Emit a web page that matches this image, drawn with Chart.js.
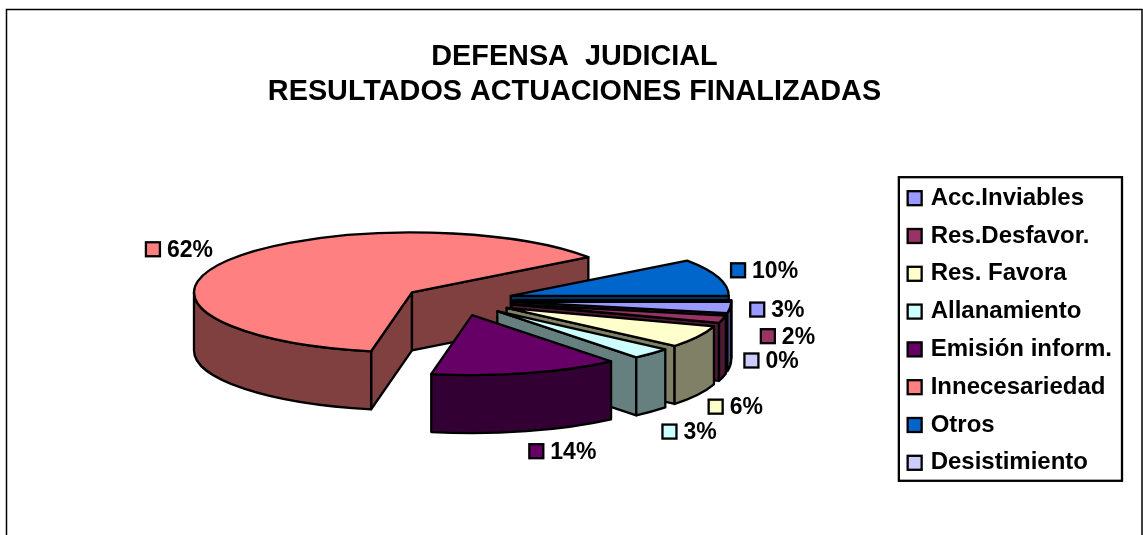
<!DOCTYPE html>
<html>
<head>
<meta charset="utf-8">
<script src="https://cdn.jsdelivr.net/npm/chart.js@4"></script>
<style>
  html, body { margin: 0; padding: 0; background: #fff; }
  canvas { display: block; }
</style>
</head>
<body>
<canvas id="pieChart" width="1143" height="535"></canvas>
<script>
const titleLines = ['DEFENSA  JUDICIAL', 'RESULTADOS ACTUACIONES FINALIZADAS'];
const categories = ['Acc.Inviables', 'Res.Desfavor.', 'Res. Favora', 'Allanamiento', 'Emisión inform.', 'Innecesariedad', 'Otros', 'Desistimiento'];
const percentages = [3, 2, 6, 3, 14, 62, 10, 0];
const topColors = ['#9999FF', '#993366', '#FFFFCC', '#CCFFFF', '#660066', '#FF8080', '#0066CC', '#CCCCFF'];
const wallColors = ['#4D4D80', '#4D1933', '#808066', '#668080', '#330033', '#804040', '#003366', '#666680'];

// look of the fake 3d pie
const tilt = 0.275;
const depth = 58;
const explode = 55;
const shiftX = -4.5; // pie position relative to the centre of the chart area
const liftY = 30;
// where the % labels go, relative to the outer middle of each slice
const labelShift = [[27, 2], [45, 17], [18, 70], [18, 78], [10, 78], [-75, -11], [20, -7], [20, 60]];

const FONT = '"Liberation Sans", Arial, sans-serif';

function drawKey(ctx, x, y, color) {
    ctx.fillStyle = color;
    ctx.strokeStyle = '#000';
    ctx.lineWidth = 2.3;
    ctx.fillRect(x, y, 14, 14);
    ctx.strokeRect(x, y, 14, 14);
}

const pie3d = {
    id: 'pie3d',
    beforeDraw(chart) {
        // outer frame, the bottom edge falls off the page
        const ctx = chart.ctx;
        ctx.save();
        ctx.strokeStyle = '#000';
        ctx.lineWidth = 1.5;
        ctx.beginPath();
        ctx.moveTo(6.5, chart.height);
        ctx.lineTo(6.5, 9.5);
        ctx.lineTo(1142, 9.5);
        ctx.lineTo(1142, chart.height);
        ctx.stroke();
        ctx.restore();
    },
    beforeDatasetsDraw(chart) {
        const ctx = chart.ctx;
        const arcs = chart.getDatasetMeta(0).data;

        const slices = arcs.map((arc, i) => {
            const mid = (arc.startAngle + arc.endAngle) / 2;
            return {
                arc, i, mid,
                px: arc.x + shiftX + Math.cos(mid) * explode,
                py: arc.y - liftY + Math.sin(mid) * explode * tilt
            };
        });

        // back to front
        slices.slice().sort((a, b) => Math.sin(a.mid) - Math.sin(b.mid)).forEach(s => {
            const { arc, i, px, py } = s;
            const r = arc.outerRadius;
            const ry = r * tilt;
            const t0 = arc.startAngle;
            const t1 = arc.endAngle;
            const edge = t => [px + Math.cos(t) * r, py + Math.sin(t) * ry];

            ctx.save();
            ctx.lineWidth = 2.3;
            ctx.lineJoin = 'round';
            ctx.strokeStyle = '#000';
            ctx.fillStyle = wallColors[i];

            const radialWall = t => {
                const [ex, ey] = edge(t);
                ctx.beginPath();
                ctx.moveTo(px, py);
                ctx.lineTo(ex, ey);
                ctx.lineTo(ex, ey + depth);
                ctx.lineTo(px, py + depth);
                ctx.closePath();
                ctx.fill();
                ctx.stroke();
            };
            if (Math.cos(t0) < 0) radialWall(t0);
            if (Math.cos(t1) > 0) radialWall(t1);

            // curved wall, only the part that faces the viewer
            [[0, Math.PI], [2 * Math.PI, 3 * Math.PI]].forEach(([lo, hi]) => {
                const a = Math.max(t0, lo);
                const b = Math.min(t1, hi);
                if (b <= a) return;
                ctx.beginPath();
                ctx.ellipse(px, py, r, ry, 0, a, b);
                ctx.ellipse(px, py + depth, r, ry, 0, b, a, true);
                ctx.closePath();
                ctx.fill();
                ctx.stroke();
            });

            // top face comes from the library's own arc
            ctx.save();
            ctx.translate(px, py);
            ctx.scale(1, tilt);
            ctx.translate(-arc.x, -arc.y);
            arc.draw(ctx);
            ctx.restore();

            ctx.beginPath();
            ctx.moveTo(px, py);
            ctx.ellipse(px, py, r, ry, 0, t0, t1);
            ctx.closePath();
            ctx.stroke();
            ctx.restore();
        });

        // % labels
        ctx.save();
        ctx.font = 'bold 23px ' + FONT;
        ctx.textBaseline = 'middle';
        slices.forEach(s => {
            const reach = s.arc.outerRadius + explode;
            const x = s.arc.x + shiftX + Math.cos(s.mid) * reach + labelShift[s.i][0];
            const y = s.arc.y - liftY + Math.sin(s.mid) * reach * tilt + labelShift[s.i][1];
            drawKey(ctx, x - 7, y - 7, topColors[s.i]);
            ctx.fillStyle = '#000';
            ctx.fillText(percentages[s.i] + '%', x + 14, y + 1);
        });
        ctx.restore();
        return false;
    },
    afterDraw(chart) {
        // box around the legend and its colour keys
        const ctx = chart.ctx;
        const legend = chart.legend;
        const boxes = legend.legendHitBoxes;
        const last = boxes[boxes.length - 1];
        const boxTop = boxes[0].top - 9;
        const boxBottom = last.top + last.height + 6;
        ctx.save();
        ctx.strokeStyle = '#000';
        ctx.lineWidth = 2.3;
        ctx.strokeRect(legend.left, boxTop, legend.right - legend.left, boxBottom - boxTop);
        boxes.forEach((b, i) => drawKey(ctx, b.left - 5, b.top + b.height / 2 - 7, topColors[i]));
        ctx.restore();
    }
};

new Chart(document.getElementById('pieChart'), {
    type: 'pie',
    plugins: [pie3d],
    data: {
        labels: categories,
        datasets: [{
            data: percentages,
            backgroundColor: topColors,
            borderWidth: 0
        }]
    },
    options: {
        responsive: false,
        animation: false,
        rotation: 90,
        radius: 218,
        layout: { padding: { left: 27, right: 21, top: 0, bottom: 2 } },
        plugins: {
            tooltip: { enabled: false },
            title: {
                display: true,
                text: titleLines,
                color: '#000',
                font: { family: FONT, size: 28.8, weight: 'bold', lineHeight: 1.215 },
                padding: { top: 40, bottom: 18 }
            },
            legend: {
                position: 'right',
                fullSize: false,
                labels: {
                    boxWidth: 6,
                    boxHeight: 6,
                    padding: 13.8,
                    color: '#000',
                    font: { family: FONT, size: 24, weight: 'bold' },
                    generateLabels: () => categories.map((text, i) => ({
                        text, index: i, fillStyle: 'transparent', strokeStyle: 'transparent', lineWidth: 0
                    }))
                }
            }
        }
    }
});
</script>
</body>
</html>
